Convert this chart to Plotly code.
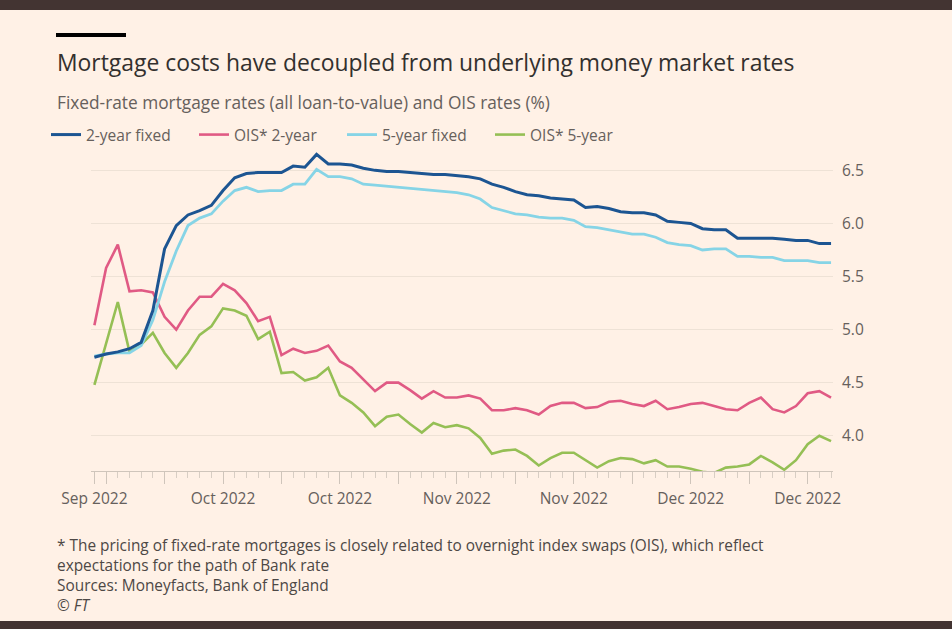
import pandas as pd
import plotly.graph_objects as go

# business days, 23 Sep 2022 to 21 Dec 2022
dates = pd.bdate_range("2022-09-23", "2022-12-21")

two_year_fixed = [4.74, 4.77, 4.79, 4.82, 4.88, 5.18, 5.76, 5.98, 6.08, 6.12,
                  6.17, 6.31, 6.43, 6.47, 6.48, 6.48, 6.48, 6.54, 6.53, 6.65,
                  6.56, 6.56, 6.55, 6.52, 6.50, 6.49, 6.49, 6.48, 6.47, 6.46,
                  6.46, 6.45, 6.44, 6.42, 6.37, 6.34, 6.30, 6.27, 6.26, 6.24,
                  6.23, 6.22, 6.15, 6.16, 6.14, 6.11, 6.10, 6.10, 6.08, 6.02,
                  6.01, 6.00, 5.95, 5.94, 5.94, 5.86, 5.86, 5.86, 5.86, 5.85,
                  5.84, 5.84, 5.81, 5.81]

five_year_fixed = [4.75, 4.77, 4.78, 4.78, 4.85, 5.09, 5.45, 5.74, 5.98, 6.05,
                   6.09, 6.21, 6.31, 6.34, 6.30, 6.31, 6.31, 6.37, 6.37, 6.51,
                   6.44, 6.44, 6.42, 6.37, 6.36, 6.35, 6.34, 6.33, 6.32, 6.31,
                   6.30, 6.29, 6.27, 6.23, 6.15, 6.12, 6.09, 6.08, 6.06, 6.05,
                   6.05, 6.03, 5.97, 5.96, 5.94, 5.92, 5.90, 5.90, 5.87, 5.82,
                   5.80, 5.79, 5.75, 5.76, 5.76, 5.69, 5.69, 5.68, 5.68, 5.65,
                   5.65, 5.65, 5.63, 5.63]

ois_2_year = [5.04, 5.58, 5.80, 5.36, 5.37, 5.35, 5.12, 5.00, 5.18, 5.31,
              5.31, 5.43, 5.37, 5.25, 5.08, 5.12, 4.76, 4.82, 4.78, 4.80,
              4.85, 4.70, 4.64, 4.53, 4.42, 4.50, 4.50, 4.43, 4.35, 4.42,
              4.36, 4.36, 4.38, 4.35, 4.24, 4.24, 4.26, 4.24, 4.20, 4.28,
              4.31, 4.31, 4.26, 4.27, 4.32, 4.33, 4.30, 4.28, 4.33, 4.25,
              4.27, 4.30, 4.31, 4.28, 4.25, 4.24, 4.31, 4.36, 4.25, 4.22,
              4.28, 4.40, 4.42, 4.36]

ois_5_year = [4.48, 4.86, 5.26, 4.79, 4.86, 4.97, 4.78, 4.64, 4.78, 4.95,
              5.03, 5.20, 5.18, 5.13, 4.91, 4.98, 4.59, 4.60, 4.52, 4.55,
              4.64, 4.38, 4.31, 4.22, 4.09, 4.18, 4.20, 4.11, 4.03, 4.12,
              4.08, 4.10, 4.07, 3.98, 3.83, 3.86, 3.87, 3.81, 3.72, 3.79,
              3.84, 3.84, 3.77, 3.70, 3.76, 3.79, 3.78, 3.74, 3.77, 3.71,
              3.71, 3.69, 3.66, 3.65, 3.70, 3.71, 3.73, 3.81, 3.75, 3.68,
              3.77, 3.92, 4.00, 3.95]

# x tick marks: first day, then every Monday (labels every other one)
tick_dates = ["2022-09-23", "2022-09-26", "2022-10-03", "2022-10-10", "2022-10-17",
              "2022-10-24", "2022-10-31", "2022-11-07", "2022-11-14", "2022-11-21",
              "2022-11-28", "2022-12-05", "2022-12-12", "2022-12-19"]
tick_text = ["Sep 2022", "", "", "Oct 2022", "", "Oct 2022", "", "Nov 2022", "",
             "Nov 2022", "", "Dec 2022", "", "Dec 2022"]
y_ticks = [4.0, 4.5, 5.0, 5.5, 6.0, 6.5]

BG = "#fff1e6"
TXT = "#66605c"
FONT = "Open Sans"

W, H = 952, 629
L, R, T, B = 91, 119, 147, 158
PW, PH = W - L - R, H - T - B


def xp(px):
    return (px - L) / PW


def yp(py):
    return (H - B - py) / PH


fig = go.Figure()

# draw OIS first so mortgage lines sit on top
fig.add_trace(go.Scatter(x=dates, y=ois_5_year, name="OIS* 5-year", mode="lines",
                         line=dict(color="#95bf55", width=2.6), legendrank=4))
fig.add_trace(go.Scatter(x=dates, y=ois_2_year, name="OIS* 2-year", mode="lines",
                         line=dict(color="#e05a84", width=2.6), legendrank=2))
fig.add_trace(go.Scatter(x=dates, y=five_year_fixed, name="5-year fixed", mode="lines",
                         line=dict(color="#86d4e6", width=2.8), legendrank=3))
fig.add_trace(go.Scatter(x=dates, y=two_year_fixed, name="2-year fixed", mode="lines",
                         line=dict(color="#1c5592", width=3), legendrank=1))

fig.update_xaxes(
    type="date",
    range=["2022-09-22 17:00", "2022-12-21 04:00"],
    rangebreaks=[dict(bounds=["sat", "mon"])],
    tickvals=tick_dates, ticktext=tick_text,
    ticks="outside", ticklen=12, tickcolor="#cfc5bb", tickwidth=1,
    minor=dict(dtick=86400000, tick0="2022-09-23", ticks="outside", ticklen=6,
               tickcolor="#d8cec4", tickwidth=1),
    showline=True, linecolor="#cfc5bb", linewidth=1,
    showgrid=False, zeroline=False,
    tickfont=dict(family=FONT, size=15.5, color=TXT),
    ticklabelstandoff=1,
)
fig.update_yaxes(
    range=[3.668, 6.72], side="right",
    tickvals=y_ticks, tickformat=".1f",
    showgrid=True, gridcolor="#eee2d6", gridwidth=1,
    zeroline=False, showline=False, ticks="",
    tickfont=dict(family=FONT, size=15.5, color=TXT),
    ticklabelstandoff=8,
)

fig.update_layout(
    width=W, height=H,
    margin=dict(l=L, r=R, t=T, b=B),
    paper_bgcolor=BG, plot_bgcolor=BG,
    showlegend=True,
    legend=dict(orientation="h", x=xp(46), y=yp(135), xanchor="left", yanchor="middle",
                font=dict(family=FONT, size=15.5, color=TXT),
                entrywidth=103, entrywidthmode="pixels",
                bgcolor="rgba(0,0,0,0)", traceorder="normal"),
    shapes=[
        dict(type="rect", xref="paper", yref="paper", x0=xp(0), x1=xp(W), y0=yp(0), y1=yp(10),
             fillcolor="#433432", line_width=0, layer="above"),
        dict(type="rect", xref="paper", yref="paper", x0=xp(0), x1=xp(W), y0=yp(621), y1=yp(H),
             fillcolor="#433432", line_width=0, layer="above"),
        dict(type="rect", xref="paper", yref="paper", x0=xp(56), x1=xp(126), y0=yp(33), y1=yp(37),
             fillcolor="#000000", line_width=0),
    ],
    annotations=[
        dict(text="Mortgage costs have decoupled from underlying money market rates",
             x=xp(55), y=yp(63), xref="paper", yref="paper", xanchor="left", yanchor="middle",
             showarrow=False, font=dict(family=FONT, size=22.9, color="#33302e")),
        dict(text="Fixed-rate mortgage rates (all loan-to-value) and OIS rates (%)",
             x=xp(55), y=yp(102), xref="paper", yref="paper", xanchor="left", yanchor="middle",
             showarrow=False, font=dict(family=FONT, size=17.3, color=TXT)),
        dict(text="* The pricing of fixed-rate mortgages is closely related to overnight index swaps (OIS), which reflect",
             x=xp(55), y=yp(545), xref="paper", yref="paper", xanchor="left", yanchor="middle",
             showarrow=False, font=dict(family=FONT, size=15.4, color="#4d4845")),
        dict(text="expectations for the path of Bank rate",
             x=xp(55), y=yp(565), xref="paper", yref="paper", xanchor="left", yanchor="middle",
             showarrow=False, font=dict(family=FONT, size=15.4, color="#4d4845")),
        dict(text="Sources: Moneyfacts, Bank of England",
             x=xp(55), y=yp(585), xref="paper", yref="paper", xanchor="left", yanchor="middle",
             showarrow=False, font=dict(family=FONT, size=15.4, color="#4d4845")),
        dict(text="<i>© FT</i>",
             x=xp(55), y=yp(605), xref="paper", yref="paper", xanchor="left", yanchor="middle",
             showarrow=False, font=dict(family=FONT, size=15.4, color="#4d4845")),
    ],
)

# the page body has a default margin; drop it so the figure sits at the window corner
fig.write_html("out.html", config={"displayModeBar": False},
               post_script="document.body.style.margin='0';")
